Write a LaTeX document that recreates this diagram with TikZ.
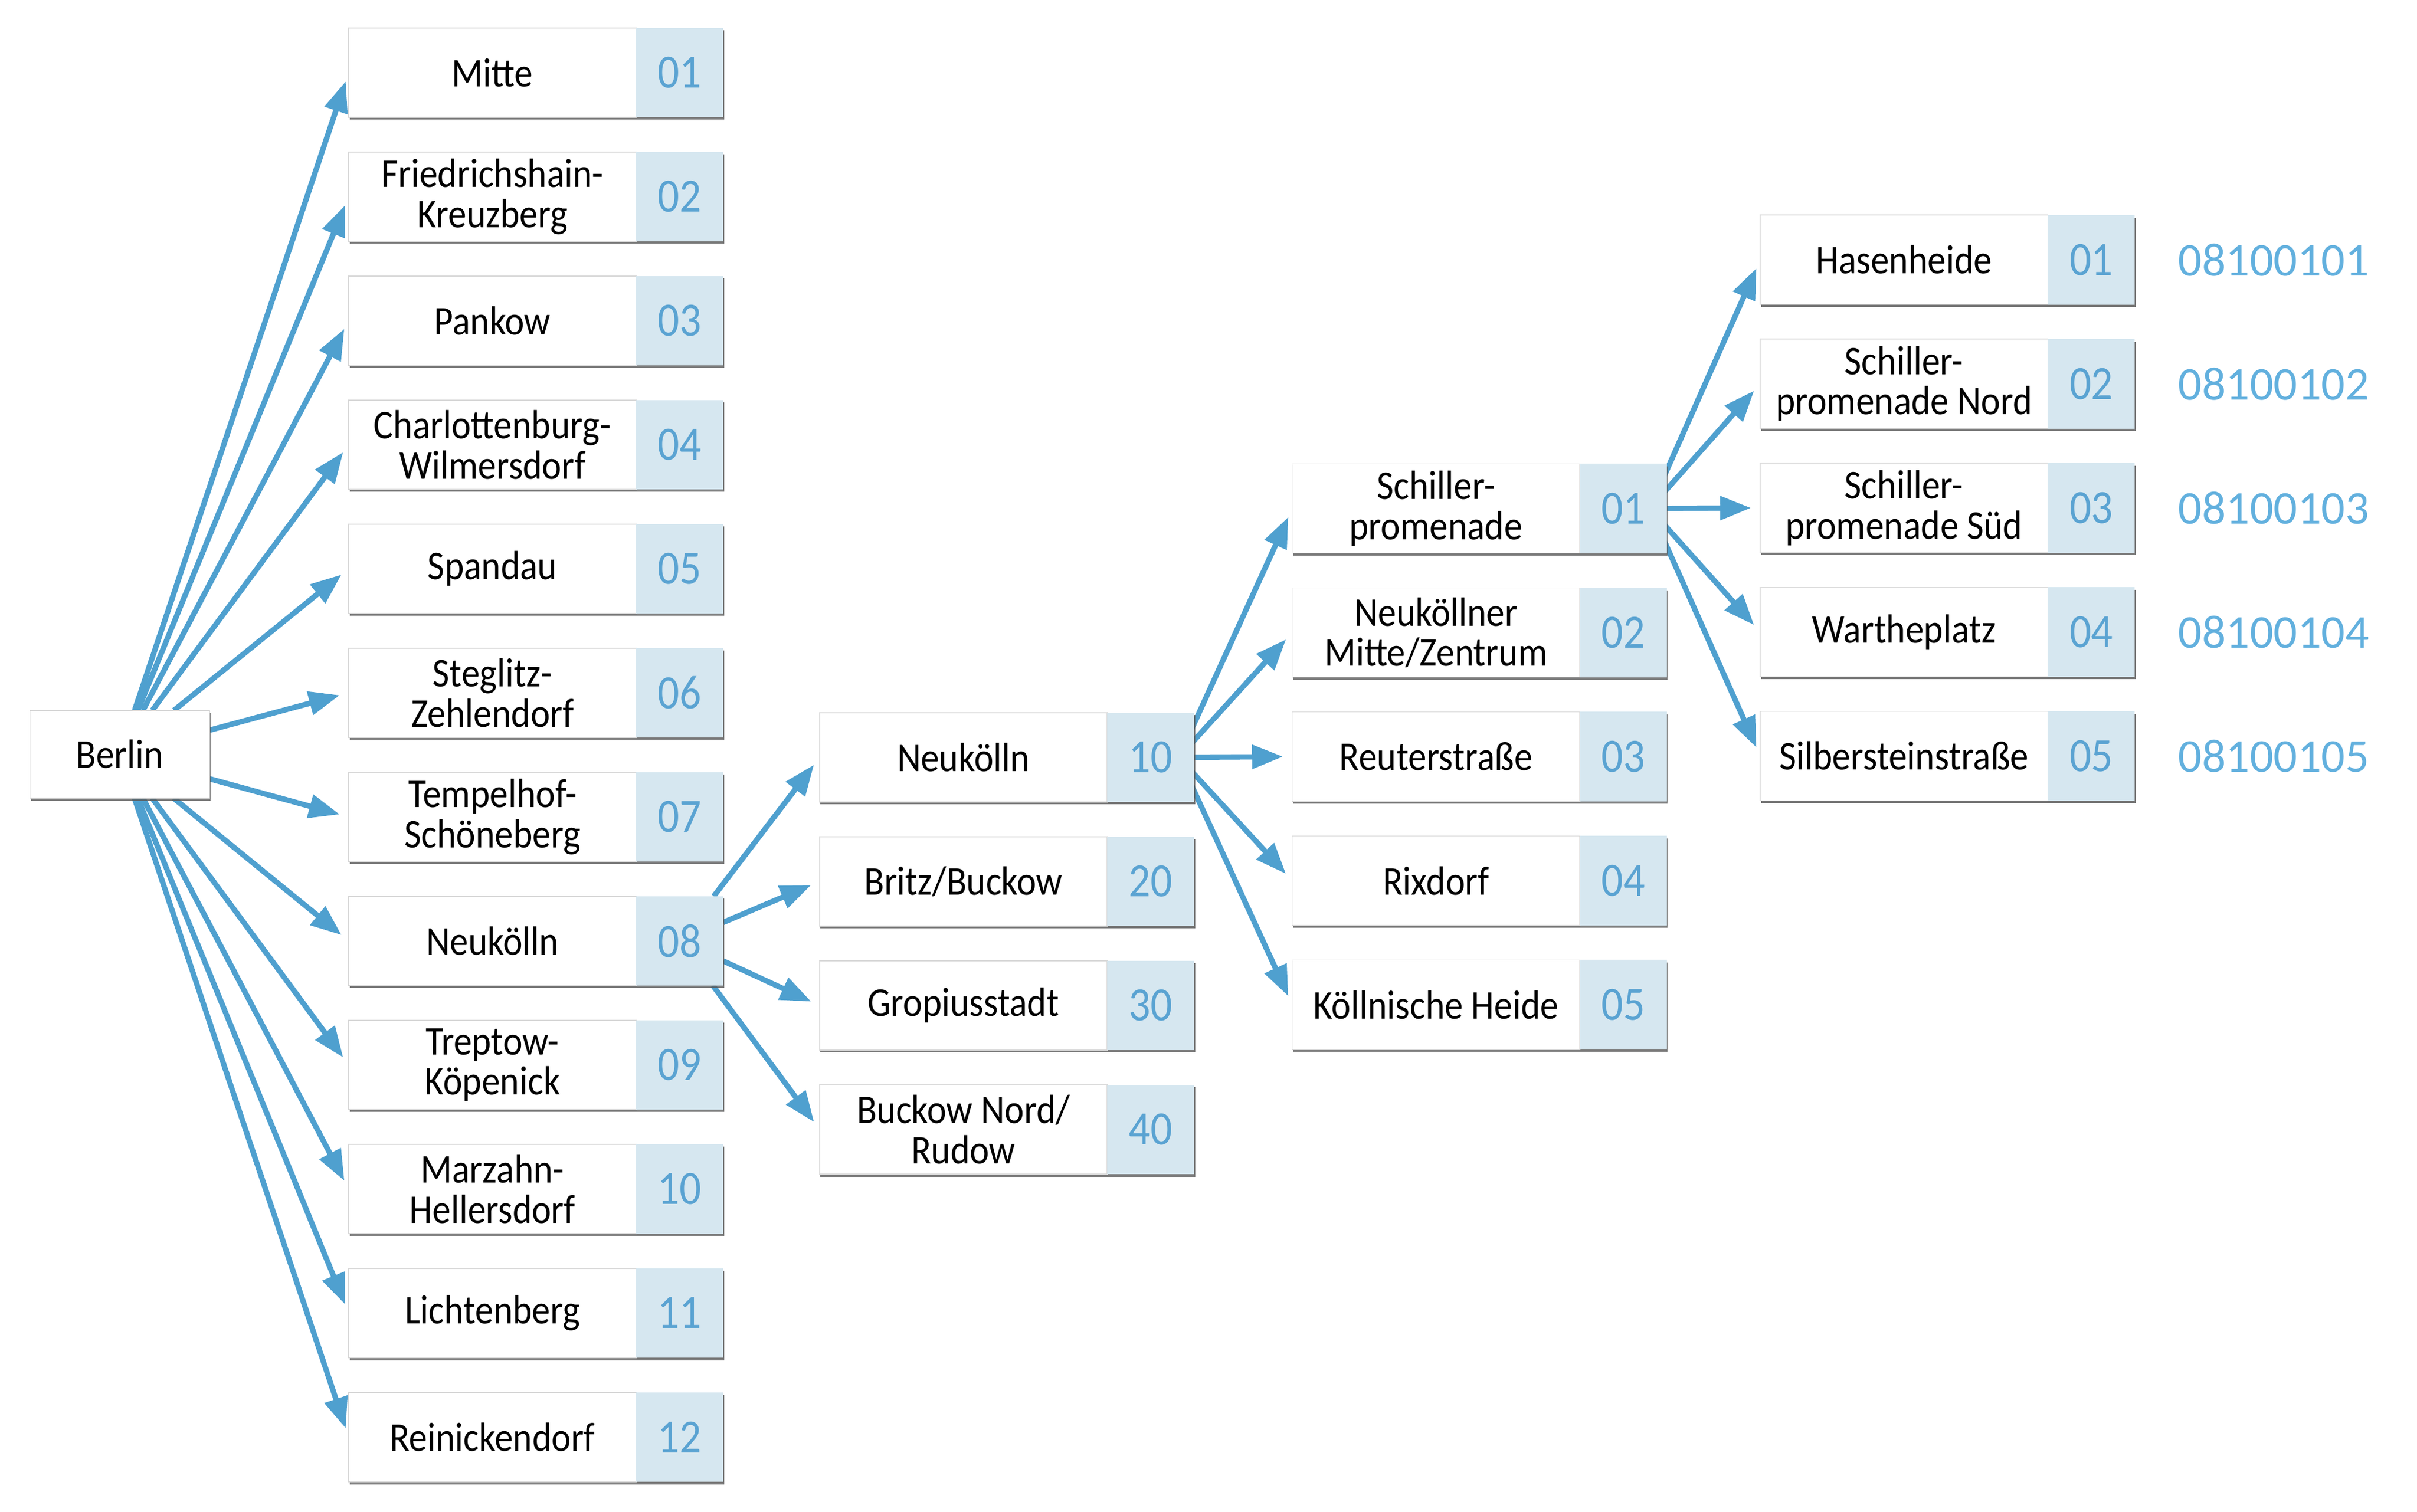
\documentclass[tikz,border=0pt]{standalone}
\usepackage{fontspec}
\setmainfont[FakeStretch=0.9]{Carlito}
\newfontfamily\codefont{Carlito}
\usepackage{tikz}
\usetikzlibrary{positioning,arrows.meta,shadows,backgrounds}

\definecolor{arrowblue}{HTML}{4FA0CF}
\definecolor{cellblue}{HTML}{D6E7F0}
\definecolor{numblue}{HTML}{5AA3D2}
\definecolor{codeblue}{HTML}{62B0DE}

\tikzset{
	lbl/.style={draw=black!15, line width=0.6pt, fill=white, outer sep=0pt, inner sep=0pt,
		minimum width=186.6pt, minimum height=58pt, align=center,
		font=\fontsize{26.5}{26}\selectfont,
		drop shadow={shadow xshift=0.6pt, shadow yshift=-1.6pt, fill=black!65, opacity=0.8}},
	num/.style={fill=cellblue, outer sep=0pt, inner sep=0pt,
		minimum width=56.4pt, minimum height=58pt, text=numblue,
		font=\fontsize{31}{31}\selectfont,
		drop shadow={shadow xshift=0.6pt, shadow yshift=-1.6pt, fill=black!65, opacity=0.8}},
	code/.style={text=codeblue, font=\codefont\fontsize{30.5}{31}\selectfont},
	arr/.style={draw=arrowblue, line width=3.5pt, -{Triangle[length=20pt,width=15pt]}, shorten >=6pt}
}

\begin{document}
\begin{tikzpicture}[x=1pt,y=1pt]
	\useasboundingbox (0,0) rectangle (1568,-981);
	
	\node[lbl, minimum width=116.5pt, minimum height=57pt] (berlin) at (77.75,-489.5) {Berlin};
	
	% Bezirke
	\foreach \name/\nr [count=\i] in {Mitte/01, {Friedrichshain-\\Kreuzberg}/02, Pankow/03, {Charlottenburg-\\Wilmersdorf}/04, Spandau/05, {Steglitz-\\Zehlendorf}/06, {Tempelhof-\\Schöneberg}/07, Neukölln/08, {Treptow-\\Köpenick}/09, {Marzahn-\\Hellersdorf}/10, Lichtenberg/11, Reinickendorf/12}{
		\node[lbl, anchor=west] (b\i) at (226.2,{-47.1-80.5*(\i-1)}) {\name};
		\node[num, right=0pt of b\i] (bn\i) {\nr};
	}
	
	% Prognoseraeume
	\foreach \name/\nr [count=\i] in {Neukölln/10, {Britz/Buckow}/20, Gropiusstadt/30, {Buckow Nord/\\Rudow}/40}{
		\node[lbl, anchor=west] (o\i) at (531.7,{-491.5-80.5*(\i-1)}) {\name};
		\node[num, right=0pt of o\i] (on\i) {\nr};
	}
	
	% Bezirksregionen
	\foreach \name/\nr [count=\i] in {{Schiller-\\promenade}/01, {Neuköllner\\Mitte/Zentrum}/02, Reuterstraße/03, Rixdorf/04, Köllnische Heide/05}{
		\node[lbl, anchor=west] (r\i) at (838.3,{-330-80.5*(\i-1)}) {\name};
		\node[num, right=0pt of r\i] (rn\i) {\nr};
	}
	
	% Planungsraeume
	\foreach \name/\nr [count=\i] in {Hasenheide/01, {Schiller-\\promenade Nord}/02, {Schiller-\\promenade Süd}/03, Wartheplatz/04, Silbersteinstraße/05}{
		\node[lbl, anchor=west] (p\i) at (1141.9,{-168.6-80.5*(\i-1)}) {\name};
		\node[num, right=0pt of p\i] (pn\i) {\nr};
		\node[code] (c\i) at (1475,{-168.6-80.5*(\i-1)}) {081001\nr};
	}
	
	\coordinate (s10) at ([xshift=-10pt]on1.east);
	\coordinate (s01) at ([xshift=-11pt]rn1.east);
	
	\begin{scope}[on background layer]
		\foreach \i in {1,...,12}
			\draw[arr] (berlin) -- (b\i.west);
		\foreach \i in {1,...,4}
			\draw[arr] (bn8) -- (o\i.west);
		\foreach \i in {1,...,5}{
			\draw[arr] (s10) -- (r\i.west);
			\draw[arr] (s01) -- (p\i.west);
		}
	\end{scope}
\end{tikzpicture}
\end{document}
